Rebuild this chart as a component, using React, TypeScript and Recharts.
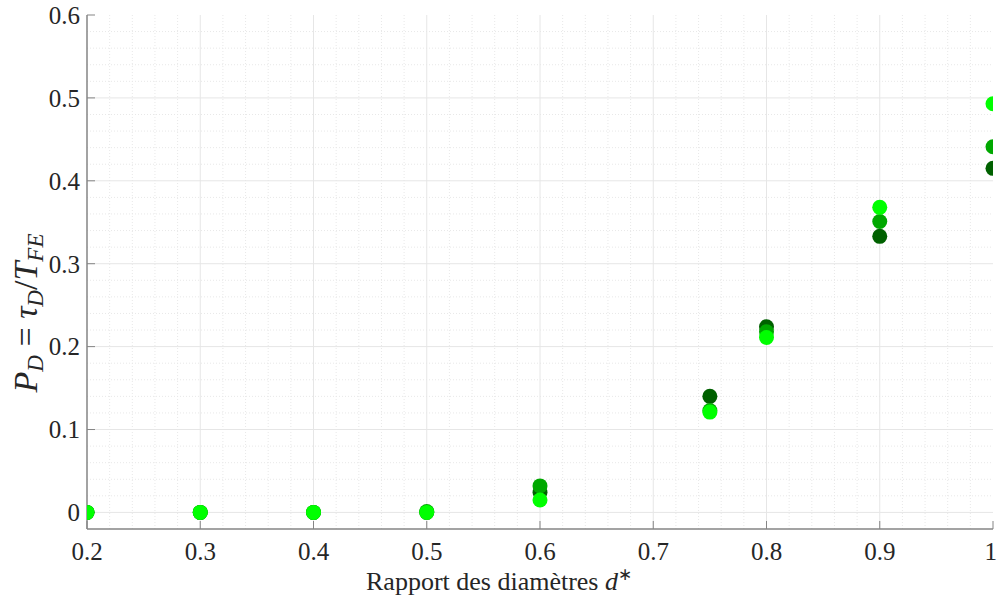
import { ReferenceLine, Scatter, ScatterChart, XAxis, YAxis } from "recharts";

// rapport des diamètres d*
const diameters = [0.2, 0.3, 0.4, 0.5, 0.6, 0.75, 0.8, 0.9, 1];

// P_D for the three cases (dark, medium, light green)
const darkSeries = [0, 0, 0, 0, 0.024, 0.14, 0.224, 0.333, 0.415];
const mediumSeries = [0, 0, 0, 0.001, 0.032, 0.123, 0.218, 0.351, 0.441];
const lightSeries = [0, 0, 0, 0, 0.015, 0.121, 0.211, 0.368, 0.493];

const xTicks = [0.2, 0.3, 0.4, 0.5, 0.6, 0.7, 0.8, 0.9, 1];
const yTicks = [0, 0.1, 0.2, 0.3, 0.4, 0.5, 0.6];

const COLORS = ["#006100", "#00a800", "#00ff00"];
const AXIS = "#858585";
const FONT = '"Liberation Serif"';

const toPoints = (ys: number[]) => diameters.map((d, i) => ({ d, p: ys[i] }));

// grid lines (every 0.1 solid, every 0.02 dotted)
const xMajor: number[] = [];
const xMinor: number[] = [];
for (let i = 11; i < 50; i++) (i % 5 === 0 ? xMajor : xMinor).push(i / 50);
const yMajor: number[] = [];
const yMinor: number[] = [];
for (let i = 0; i < 30; i++) (i % 5 === 0 ? yMajor : yMinor).push(i / 50);

const fmt = (v: number) => (v === 0 ? "0" : v === 1 ? "1" : v.toFixed(1));

const dot = (color: string) => (props: any) => (
  <circle cx={props.cx} cy={props.cy} r={7.5} fill={color} />
);

const tickStyle = { fill: "#262626", fontSize: 25, fontFamily: FONT };

export default function App() {
  const series = [darkSeries, mediumSeries, lightSeries];
  return (
    <div
      style={{
        position: "absolute",
        left: 0,
        top: 0,
        width: 997,
        height: 602,
        background: "#fff",
      }}
    >
      <ScatterChart width={997} height={602} margin={{ top: 15, right: 4, left: 0, bottom: 0 }}>
        {xMinor.map((v) => (
          <ReferenceLine key={"xm" + v} x={v} stroke="#e8e8e8" strokeDasharray="1 2" />
        ))}
        {yMinor.map((v) => (
          <ReferenceLine key={"ym" + v} y={v} stroke="#e8e8e8" strokeDasharray="1 2" />
        ))}
        {xMajor.map((v) => (
          <ReferenceLine key={"xM" + v} x={v} stroke="#e6e6e6" />
        ))}
        {yMajor.map((v) => (
          <ReferenceLine key={"yM" + v} y={v} stroke="#e6e6e6" />
        ))}
        <XAxis
          dataKey="d"
          type="number"
          domain={[0.2, 1]}
          ticks={xTicks}
          tickFormatter={fmt}
          allowDataOverflow
          height={73}
          tickSize={-8}
          tickMargin={21}
          axisLine={{ stroke: AXIS, strokeWidth: 1.5 }}
          tickLine={{ stroke: AXIS }}
          tick={tickStyle}
        />
        <XAxis
          xAxisId="top"
          orientation="top"
          type="number"
          domain={[0.2, 1]}
          ticks={xTicks}
          tickFormatter={() => ""}
          allowDataOverflow
          height={0}
          tickSize={-8}
          axisLine={{ stroke: AXIS, strokeWidth: 1.5 }}
          tickLine={{ stroke: AXIS }}
        />
        <YAxis
          dataKey="p"
          type="number"
          domain={[-0.02, 0.6]}
          ticks={yTicks}
          tickFormatter={fmt}
          allowDataOverflow
          width={87}
          tickSize={-8}
          tickMargin={15}
          axisLine={{ stroke: AXIS, strokeWidth: 1.5 }}
          tickLine={{ stroke: AXIS }}
          tick={tickStyle}
        />
        <YAxis
          yAxisId="right"
          orientation="right"
          type="number"
          domain={[-0.02, 0.6]}
          ticks={yTicks}
          tickFormatter={() => ""}
          allowDataOverflow
          width={0}
          tickSize={-8}
          axisLine={{ stroke: AXIS, strokeWidth: 1.5 }}
          tickLine={{ stroke: AXIS }}
        />
        {series.map((ys, i) => (
          <Scatter
            key={i}
            data={toPoints(ys)}
            fill={COLORS[i]}
            shape={dot(COLORS[i])}
            isAnimationActive={false}
          />
        ))}
      </ScatterChart>
      <svg
        width={997}
        height={602}
        style={{ position: "absolute", left: 0, top: 0, pointerEvents: "none" }}
      >
        <text x={499} y={590} textAnchor="middle" fontSize={26} fill="#262626" fontFamily={FONT}>
          Rapport des diamètres <tspan fontStyle="italic">d</tspan>
          <tspan fontSize={17} dy={-10}>∗</tspan>
        </text>
        <text
          transform="translate(37,313) rotate(-90)"
          textAnchor="middle"
          fontSize={34}
          fill="#262626"
          fontFamily={FONT}
        >
          <tspan fontStyle="italic">P</tspan>
          <tspan fontStyle="italic" fontSize={23} dy={6}>D</tspan>
          <tspan dy={-6}> = </tspan>
          <tspan fontStyle="italic">τ</tspan>
          <tspan fontStyle="italic" fontSize={23} dy={6}>D</tspan>
          <tspan dy={-6}>/</tspan>
          <tspan fontStyle="italic">T</tspan>
          <tspan fontStyle="italic" fontSize={23} dy={6}>FE</tspan>
        </text>
      </svg>
    </div>
  );
}
